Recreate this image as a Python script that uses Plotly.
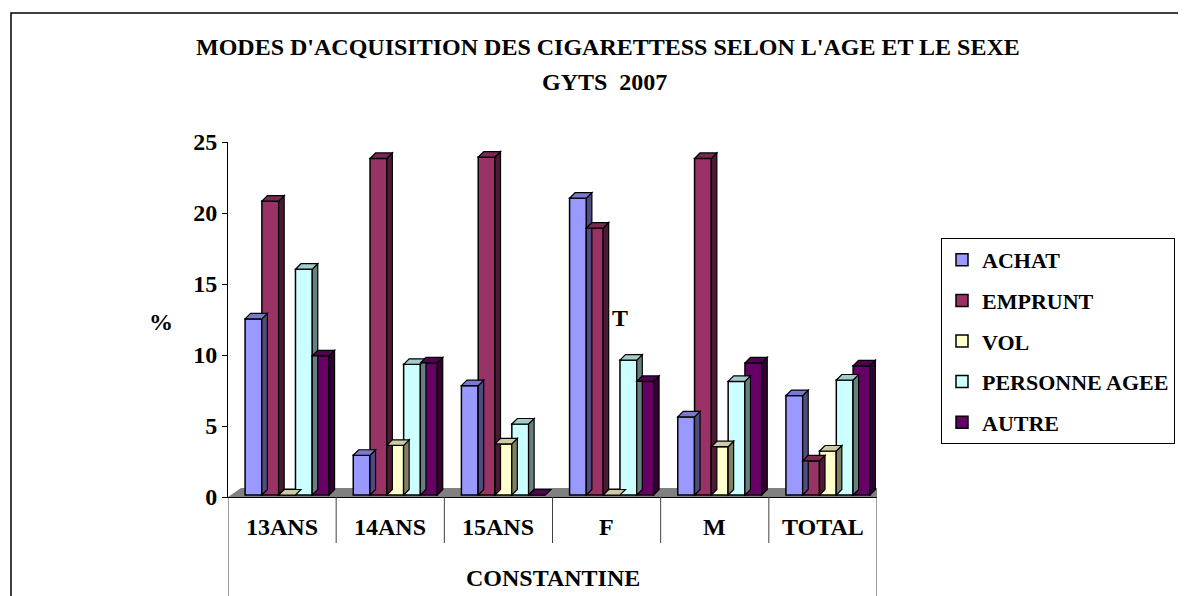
import plotly.graph_objects as go

categories = ["13ANS", "14ANS", "15ANS", "F", "M", "TOTAL"]
group_label = "CONSTANTINE"

achat = [12.4, 2.8, 7.7, 20.9, 5.5, 7.0]
emprunt = [20.7, 23.7, 23.8, 18.8, 23.7, 2.4]
vol = [0.0, 3.5, 3.6, 0.0, 3.4, 3.1]
personne_agee = [15.9, 9.2, 5.0, 9.5, 8.0, 8.1]
autre = [9.8, 9.3, 0.0, 8.0, 9.3, 9.1]

series = [
    ("ACHAT", achat, "#9999FF", "#4D4D80", "#7A7ACC"),
    ("EMPRUNT", emprunt, "#993366", "#4D1A33", "#7A2952"),
    ("VOL", vol, "#FFFFCC", "#808066", "#CCCCA3"),
    ("PERSONNE AGEE", personne_agee, "#CCFFFF", "#668080", "#A3CCCC"),
    ("AUTRE", autre, "#660066", "#330033", "#520052"),
]

FONT = "Liberation Serif, Times New Roman, serif"

# page geometry (px); the page body adds an 8px margin
PAD = 8
W, H = 1186 - PAD, 596 - PAD
L, T = 228 - PAD, 142 - PAD
R = W - (877 - PAD)
B = H - (497 - PAD)
plot_w = W - L - R
plot_h = H - T - B
n = len(categories)
xpu = plot_w / n          # px per x unit
ypu = plot_h / 25         # px per y unit


def px(x):
    # page px -> paper x
    return (x - PAD - L) / plot_w


def py(y):
    # page px -> paper y
    return (H - B - (y - PAD)) / plot_h


depth = 5.5
dx, dy = depth / xpu, depth / ypu
lift = 2 / ypu
bar_w = 16.8 / xpu
shift = 5 / xpu

fig = go.Figure()

# floor
fx0, fx1 = -0.5, n - 0.5
fdx, fdy = 13 / xpu, 9 / ypu
fig.add_shape(
    type="path",
    path=f"M {fx0},0 L {fx1},0 L {fx1 + fdx},{fdy} L {fx0 + fdx},{fdy} Z",
    fillcolor="#808080", line=dict(color="#808080", width=0), layer="below",
)

for k, (name, vals, color, side, top) in enumerate(series):
    off = -2.5 * bar_w + k * bar_w
    xs = [i + shift for i in range(n)]
    fig.add_trace(go.Bar(
        x=xs, y=vals, base=[lift] * n, name=name,
        width=bar_w, offset=off,
        marker=dict(color=color, line=dict(color="black", width=1.5)),
        legendgroup=name,
    ))
    for xc, v in zip(xs, vals):
        x0 = xc + off
        x1 = x0 + bar_w
        y0 = lift
        y1 = lift + v
        if v > 0:
            fig.add_shape(
                type="path",
                path=f"M {x1},{y0} L {x1 + dx},{y0 + dy} L {x1 + dx},{y1 + dy} L {x1},{y1} Z",
                fillcolor=side, line=dict(color="black", width=1.2),
            )
        fig.add_shape(
            type="path",
            path=f"M {x0},{y1} L {x0 + dx},{y1 + dy} L {x1 + dx},{y1 + dy} L {x1},{y1} Z",
            fillcolor=top, line=dict(color="black", width=1.2),
        )

bold = dict(family=FONT, size=24, color="black", weight="bold")


def label(text, x, y, xref="paper", size=24):
    fig.add_annotation(
        x=x, y=y, xref=xref, yref="paper", text=text, showarrow=False,
        xanchor="center", yanchor="middle", font=dict(bold, size=size),
    )


# category dividers and labels
for i in range(n + 1):
    outer = i in (0, n)
    fig.add_shape(
        type="line", xref="x", yref="paper",
        x0=i - 0.5, x1=i - 0.5, y0=0, y1=py(610) if outer else py(543),
        line=dict(color="#404040", width=1),
    )
for i, c in enumerate(categories):
    label(c, i, py(527), xref="x")
label(group_label, (n - 1) / 2, py(578), xref="x")

# outer chart border
fig.add_shape(
    type="rect", xref="paper", yref="paper",
    x0=px(11), x1=px(1200), y0=py(620), y1=py(13),
    line=dict(color="black", width=1.5), fillcolor="rgba(0,0,0,0)",
)

label("%", px(161), py(322))
label("T", px(620), py(318))

# title, two lines
label("MODES D'ACQUISITION DES CIGARETTESS SELON L'AGE ET LE SEXE", px(608), py(47))
label("GYTS  2007", px(604), py(82))

fig.update_layout(
    width=W, height=H,
    margin=dict(l=L, r=R, t=T, b=B),
    paper_bgcolor="white", plot_bgcolor="white",
    barmode="overlay",
    showlegend=True,
    legend=dict(
        xref="container", yref="container",
        x=(941 - PAD) / W, y=1 - (238 - PAD) / H, xanchor="left", yanchor="top",
        bordercolor="black", borderwidth=1, bgcolor="white",
        font=dict(bold, size=22),
        tracegroupgap=9, traceorder="grouped", itemwidth=30,
    ),
    font=dict(family=FONT, color="black"),
)
fig.update_xaxes(
    range=[-0.5, n - 0.5], showticklabels=False, showgrid=False, zeroline=False,
    showline=True, linecolor="black", linewidth=1, ticks="",
)
fig.update_yaxes(
    range=[0, 25], tickvals=[0, 5, 10, 15, 20, 25], showgrid=False, zeroline=False,
    showline=True, linecolor="black", linewidth=1, ticks="outside", ticklen=5,
    tickcolor="black", tickfont=dict(bold, size=24),
)

fig.write_html("out.html")
